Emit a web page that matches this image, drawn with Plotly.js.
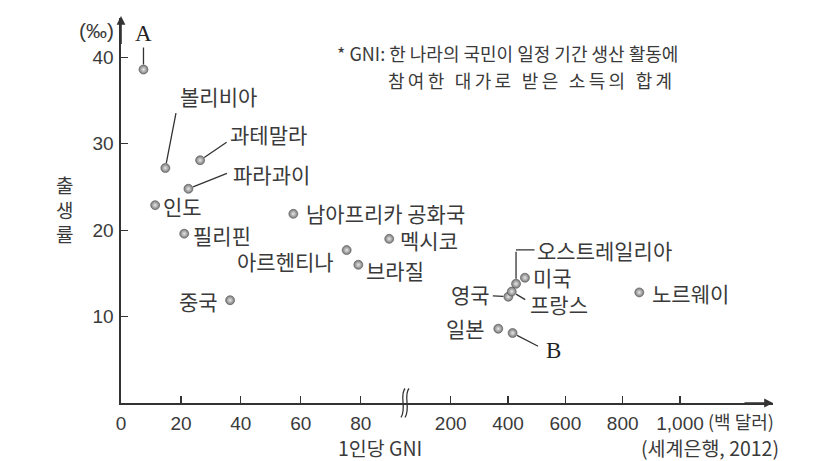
<!DOCTYPE html>
<html>
<head>
<meta charset="utf-8">
<script src="https://cdn.plot.ly/plotly-3.0.1.min.js"></script>
<style>
  html, body { margin: 0; padding: 0; background: #fff; }
  #chart { width: 831px; height: 461px; }
</style>
</head>
<body>
<div id="chart"></div>
<script>
// ---- data ----
// left part of the broken x axis (0 – 80, hundreds of dollars)
const leftCountries = ['A', '볼리비아', '과테말라', '파라과이', '인도', '필리핀', '남아프리카 공화국', '멕시코', '아르헨티나', '브라질', '중국'];
const leftGni       = [7.5, 14.8, 26.4, 22.5, 11.4, 21.1, 57.5, 89.5, 75.3, 79.2, 36.4];
const leftBirth     = [38.6, 27.2, 28.1, 24.8, 22.9, 19.6, 21.9, 19.0, 17.7, 16.0, 11.9];
// right part of the broken x axis (200 – 1,000)
const rightCountries = ['미국', '오스트레일리아', '영국', '프랑스', '노르웨이', '일본', 'B'];
const rightGni       = [459, 428, 401, 413, 858, 366, 416];
const rightBirth     = [14.5, 13.8, 12.3, 12.9, 12.8, 8.6, 8.1];
// tick labels
const leftTicks  = [0, 20, 40, 60, 80];
const rightTicks = [200, 400, 600, 800, 1000];
const rightTickText = ['200', '400', '600', '800', '1,000'];
const yTicks = [10, 20, 30, 40];

// ---- styling ----
const KR = '"Noto Sans CJK KR", "Noto Sans", sans-serif';
const NUM = '"Liberation Sans Narrow", "Liberation Sans", Arial, sans-serif';
const SERIF = '"Liberation Serif", "DejaVu Serif", serif';
const TXT = '#3a3a3a';
const AX = '#333333';

// geometry of the plot area (pixels)
const W = 831, H = 461;
const M = {l: 121, r: 58, t: 18, b: 57.5};
const PW = W - M.l - M.r, PH = H - M.t - M.b;
const breakFrac = (403 - M.l) / PW;
function px(x) { return (x - M.l) / PW; }
function py(y) { return (H - M.b - y) / PH; }

// label placement (pixel offsets from each point)
const labelStyle = {
  'A':            {dx: 0,   dy: -36, anchor: 'center', serif: true, lead: [0, -24]},
  '볼리비아':      {dx: 53,  dy: -72, anchor: 'center', lead: [11, -57]},
  '과테말라':      {dx: 29,  dy: -26, anchor: 'left',   lead: [28, -19]},
  '파라과이':      {dx: 44,  dy: -15, anchor: 'left',   lead: [40, -16]},
  '인도':          {dx: 7,   dy: 1,   anchor: 'left'},
  '필리핀':        {dx: 8,   dy: 1,   anchor: 'left'},
  '남아프리카 공화국': {dx: 12, dy: -1, anchor: 'left'},
  '멕시코':        {dx: 10,  dy: 1,   anchor: 'left'},
  '아르헨티나':    {dx: -12, dy: 11,  anchor: 'right'},
  '브라질':        {dx: 7,   dy: 5,   anchor: 'left'},
  '중국':          {dx: -11, dy: 1,   anchor: 'right'},
  '미국':          {dx: 7,   dy: -1,  anchor: 'left'},
  '오스트레일리아': {dx: 20,  dy: -34, anchor: 'left', elbow: true},
  '영국':          {dx: -17, dy: -3,  anchor: 'right', lead: [-17, -1]},
  '프랑스':        {dx: 17,  dy: 12,  anchor: 'left',  lead: [15, 9]},
  '노르웨이':      {dx: 12,  dy: 1,   anchor: 'left'},
  '일본':          {dx: -12, dy: -1,  anchor: 'right'},
  'B':             {dx: 41,  dy: 17,  anchor: 'center', serif: true, lead: [27, 14]}
};

const marker = {
  size: 9,
  color: '#777777',
  gradient: {type: 'radial', color: '#e8e8e8'},
  line: {width: 0.6, color: '#555555'}
};

const traces = [
  {x: leftGni, y: leftBirth, text: leftCountries, xaxis: 'x', yaxis: 'y',
   type: 'scatter', mode: 'markers', marker: marker, hoverinfo: 'skip'},
  {x: rightGni, y: rightBirth, text: rightCountries, xaxis: 'x2', yaxis: 'y',
   type: 'scatter', mode: 'markers', marker: marker, hoverinfo: 'skip'}
];

const annotations = [];
function addLabels(names, xs, ys, xref) {
  names.forEach((name, i) => {
    const s = labelStyle[name];
    if (!s) return;
    annotations.push({
      x: xs[i], y: ys[i], xref: xref, yref: 'y',
      text: name, showarrow: false,
      xanchor: s.anchor, yanchor: 'middle',
      xshift: s.dx, yshift: -s.dy,
      font: s.serif ? {family: SERIF, size: 23, color: '#222'} : {family: KR, size: 21, color: TXT},
      borderpad: 0
    });
    if (s.lead) {
      annotations.push({
        x: xs[i], y: ys[i], xref: xref, yref: 'y',
        text: ' ', font: {size: 1}, showarrow: true, arrowhead: 0,
        arrowwidth: 1.3, arrowcolor: AX, standoff: 5,
        ax: s.lead[0], ay: s.lead[1]
      });
    }
    if (s.elbow) {
      annotations.push({
        x: xs[i], y: ys[i], xref: xref, yref: 'y',
        text: ' ', font: {size: 1}, showarrow: true, arrowhead: 0,
        arrowwidth: 1.3, arrowcolor: AX, standoff: 5,
        ax: 0, ay: s.dy
      });
      annotations.push({
        x: xs[i], y: ys[i], xref: xref, yref: 'y', yshift: -s.dy,
        text: ' ', font: {size: 1}, showarrow: true, arrowhead: 0,
        arrowwidth: 1.3, arrowcolor: AX, standoff: 0,
        ax: s.dx, ay: 0
      });
    }
  });
}
addLabels(leftCountries, leftGni, leftBirth, 'x');
addLabels(rightCountries, rightGni, rightBirth, 'x2');

// axis arrows
annotations.push({x: 0, y: 1, xref: 'paper', yref: 'paper', yshift: 2, text: ' ', font: {size: 1},
  showarrow: true, arrowhead: 2, arrowsize: 1.1, arrowwidth: 1.6, arrowcolor: AX,
  ax: 0, ay: 30, standoff: 0});
annotations.push({x: 1, y: 0, xref: 'paper', yref: 'paper', text: ' ', font: {size: 1},
  showarrow: true, arrowhead: 2, arrowsize: 1.1, arrowwidth: 1.6, arrowcolor: AX,
  ax: -30, ay: 0, standoff: 0});

// texts
const footLine2 = '참여한 대가로 받은 소득의 합계';
annotations.push({x: px(116), y: py(31), xref: 'paper', yref: 'paper', xanchor: 'right', yanchor: 'middle',
  text: '(‰)', showarrow: false, font: {family: NUM, size: 21, color: TXT}});
annotations.push({x: px(64), y: py(209), xref: 'paper', yref: 'paper', xanchor: 'center', yanchor: 'middle',
  text: '출<br>생<br>률', showarrow: false, font: {family: KR, size: 19, color: TXT}});
annotations.push({x: px(335), y: py(53), xref: 'paper', yref: 'paper', xanchor: 'left', yanchor: 'middle',
  text: '* GNI: 한 나라의 국민이 일정 기간 생산 활동에', showarrow: false, font: {family: KR, size: 18, color: TXT}});
annotations.push({x: px(531), y: py(80), xref: 'paper', yref: 'paper', xanchor: 'center', yanchor: 'middle',
  text: footLine2, showarrow: false, font: {family: KR, size: 18, color: TXT}});
annotations.push({x: px(706), y: py(422), xref: 'paper', yref: 'paper', xanchor: 'left', yanchor: 'middle',
  text: '(백 달러)', showarrow: false, font: {family: KR, size: 18, color: TXT}});
annotations.push({x: px(380), y: py(448), xref: 'paper', yref: 'paper', xanchor: 'center', yanchor: 'middle',
  text: '1인당 GNI', showarrow: false, font: {family: KR, size: 19.5, color: TXT}});
annotations.push({x: px(781), y: py(448), xref: 'paper', yref: 'paper', xanchor: 'right', yanchor: 'middle',
  text: '(세계은행, 2012)', showarrow: false, font: {family: KR, size: 19.5, color: TXT}});

// axis break mark
function wave(o) {
  const p = (x, y) => px(x + o).toFixed(4) + ',' + py(y).toFixed(4);
  return 'M' + p(405, 389) + ' C' + p(399, 396) + ' ' + p(407, 409) + ' ' + p(401, 418);
}
const shapes = [0, 4].map(o => ({
  type: 'path', xref: 'paper', yref: 'paper', path: wave(o),
  line: {color: AX, width: 1.3}
}));

const commonX = {
  showgrid: false, zeroline: false, showline: true, linecolor: AX, linewidth: 1.6,
  ticks: 'inside', ticklen: 7, tickwidth: 1.2, tickcolor: AX, ticklabelstandoff: 3,
  tickfont: {family: NUM, size: 19, color: TXT}, anchor: 'y', fixedrange: true
};

const layout = {
  width: W, height: H,
  margin: M,
  paper_bgcolor: '#ffffff', plot_bgcolor: '#ffffff',
  showlegend: false, hovermode: false,
  xaxis: Object.assign({}, commonX, {
    domain: [0, breakFrac], range: [0, (403 - 120.7) / 3.0],
    tickmode: 'array', tickvals: leftTicks, ticktext: leftTicks.map(String)
  }),
  xaxis2: Object.assign({}, commonX, {
    domain: [breakFrac, 1], range: [200 - (450.7 - 403) / 0.2866, 200 + (773 - 450.7) / 0.2866],
    tickmode: 'array', tickvals: rightTicks, ticktext: rightTickText
  }),
  yaxis: {
    range: [0, (403.5 - 18) / 8.65], showgrid: false, zeroline: false,
    showline: true, linecolor: AX, linewidth: 1.6,
    ticks: 'inside', ticklen: 7, tickwidth: 1.2, tickcolor: AX, ticklabelstandoff: 2,
    tickmode: 'array', tickvals: yTicks, ticktext: yTicks.map(String),
    tickfont: {family: NUM, size: 19, color: TXT}, fixedrange: true
  },
  annotations: annotations,
  shapes: shapes
};

Plotly.newPlot('chart', traces, layout, {displayModeBar: false, staticPlot: true}).then(() => {
  // the second footnote line is spread out to end under the first one
  document.querySelectorAll('.annotation-text').forEach(t => {
    if (t.textContent === footLine2) t.style.letterSpacing = '3.3px';
  });
});
</script>
</body>
</html>
